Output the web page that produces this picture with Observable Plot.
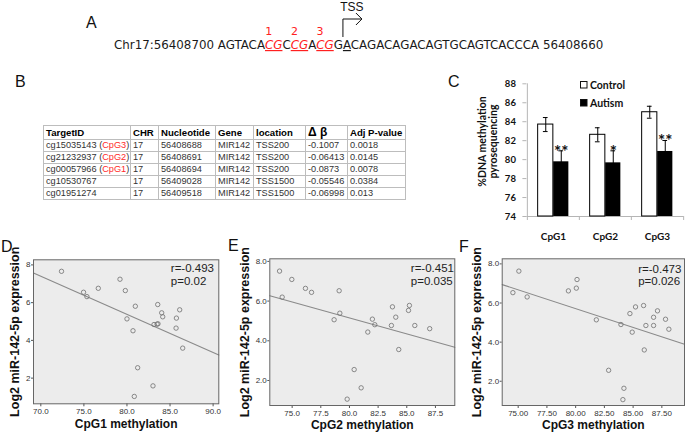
<!DOCTYPE html>
<html><head><meta charset="utf-8">
<script src="https://cdn.jsdelivr.net/npm/d3@7"></script>
<script src="https://cdn.jsdelivr.net/npm/@observablehq/plot@0.6"></script>
<style>
body{margin:0;background:#fff;}
#root{position:relative;width:685px;height:435px;overflow:hidden;background:#fff;font-family:"Liberation Sans",Arial,sans-serif;}
#tbl{position:absolute;left:43px;top:125px;border-collapse:collapse;table-layout:fixed;width:362px;font-size:9.2px;color:#333;}
#tbl td{border:1px solid #bdbdbd;padding:0 0 0 2px;height:11px;line-height:11px;white-space:nowrap;overflow:hidden;}
#tbl tr.h td{height:13px;line-height:13px;font-weight:bold;color:#000;font-size:9.6px;}
#tbl .tag{color:#ff2a2a;}
</style></head><body><div id="root"></div>
<script>
// ---------- DATA ----------
const seqParts = [
  {text:"Chr17:56408700 AGTACA"},
  {text:"CG", site:"1"},
  {text:"C"},
  {text:"CG", site:"2"},
  {text:"A"},
  {text:"CG", site:"3"},
  {text:"G"},
  {text:"A", tss:true},
  {text:"CAGACAGACAGTGCAGTCACCCA 56408660"}
];
const tableColumns = ["TargetID","CHR","Nucleotide","Gene","location","Δ β","Adj P-value"];
const columnWidths = [87,28,57,38,52,42,58];
const targetIds = ["cg15035143","cg21232937","cg00057966","cg10530767","cg01951274"];
const targetTags = ["CpG3","CpG2","CpG1",null,null];
const chrs = ["17","17","17","17","17"];
const nucleotides = ["56408688","56408691","56408694","56409028","56409518"];
const genes = ["MIR142","MIR142","MIR142","MIR142","MIR142"];
const locations = ["TSS200","TSS200","TSS200","TSS1500","TSS1500"];
const deltaBeta = ["-0.1007","-0.06413","-0.0873","-0.05546","-0.06998"];
const adjP = ["0.0018","0.0145","0.0078","0.0384","0.013"];

const cpgSites = ["CpG1","CpG2","CpG3"];
const controlMean = [83.70, 82.62, 85.00];
const controlSE = [0.74, 0.74, 0.63];
const autismMean = [79.77, 79.66, 80.86];
const autismSE = [1.16, 1.27, 1.16];
const autismStars = ["**","*","**"];
const cTicks = [74,76,78,80,82,84,86,88];

const cpg1Methylation = [72.4,74.96,75.35,76.67,79.19,79.81,80.0,80.97,80.70,83.57,84.03,84.15,83.14,83.49,83.6,86.12,85.74,85.70,86.47,81.24,83.02,80.85];
const cpg1Expression  = [7.66,6.55,6.32,6.76,7.24,6.64,5.14,5.81,4.51,5.90,5.46,5.25,4.84,4.86,4.88,5.62,5.18,4.65,3.59,2.55,1.59,1.03];
const cpg2Methylation = [73.90,74.97,74.13,76.16,76.69,79.10,79.16,78.66,82.0,82.21,81.60,83.75,84.04,83.66,85.23,85.15,85.70,87.0,84.30,80.41,81.02,79.80];
const cpg2Expression  = [7.51,7.09,6.20,6.64,6.44,6.52,5.39,5.06,5.09,4.81,4.44,5.71,5.19,4.77,5.78,5.53,4.77,4.61,3.56,2.55,1.63,1.06];
const cpg3Methylation = [74.54,75.06,75.78,79.37,80.06,80.12,81.80,83.94,84.72,85.21,84.92,85.91,86.11,87.12,86.78,86.78,87.82,88.11,85.97,82.87,84.20,84.11];
const cpg3Expression  = [6.53,7.63,6.31,6.62,6.76,7.20,5.14,4.90,5.46,5.80,4.51,5.87,4.85,5.60,5.27,4.85,5.17,4.66,3.60,2.56,1.64,1.06];
const corrR = ["-0.493","-0.451","-0.473"];
const corrP = ["0.02","0.035","0.026"];
const yLabelText = "Log2 miR-142-5p expression";

// ---------- LAYOUT ----------
const SANS = "'Liberation Sans', Arial, sans-serif";
const root = d3.select("#root");
function place(node, left, top){
  node.style.position = "absolute"; node.style.left = left + "px"; node.style.top = top + "px";
  node.style.maxWidth = "none";
  root.node().appendChild(node);
}

// ---------- PANEL B : table ----------
const tbl = root.append("table").attr("id","tbl");
const cg = tbl.append("colgroup");
columnWidths.forEach(w => cg.append("col").style("width", w + "px"));
const hr = tbl.append("tr").attr("class","h");
tableColumns.forEach(c => {
  const td = hr.append("td").text(c);
  if (c === "Δ β") td.style("font-size","12px");
});
targetIds.forEach((id, i) => {
  const tr = tbl.append("tr");
  const td0 = tr.append("td");
  td0.append("span").text(id);
  if (targetTags[i]) {
    td0.append("span").text(" (");
    td0.append("span").attr("class","tag").text(targetTags[i]);
    td0.append("span").text(")");
  }
  [chrs[i], nucleotides[i], genes[i], locations[i], deltaBeta[i], adjP[i]].forEach(v => tr.append("td").text(v));
});

// ---------- PANEL C : bar chart ----------
const cW = 245, cH = 180, cML = 86.4, cMR = 1.7, cMT = 23.3, cMB = 24;
const cStep = (cW - cML - cMR) / cpgSites.length;
const barW = 15.5, capW = 5;
const cPxPerUnit = (cH - cMT - cMB) / (cTicks[cTicks.length-1] - cTicks[0]);
const controlRows = cpgSites.map((s,i) => ({site:s, mean:controlMean[i], se:controlSE[i]}));
const autismRows = cpgSites.map((s,i) => ({site:s, mean:autismMean[i], se:autismSE[i], star:autismStars[i]}));
const plotC = Plot.plot({
  width:cW, height:cH, marginLeft:cML, marginRight:cMR, marginTop:cMT, marginBottom:cMB,
  style:{fontFamily:"Lato, 'Open Sans', sans-serif", fontWeight:"bold", fontSize:"9.5px", color:"#000", background:"transparent", overflow:"visible"},
  x:{domain:cpgSites, padding:0, label:null},
  y:{domain:[cTicks[0], cTicks[cTicks.length-1]], label:null},
  marks:[
    Plot.ruleY([cTicks[0]], {stroke:"#b5b5b5"}),
    Plot.ruleX([cpgSites[0]], {x:d=>d, dx:-cStep/2, y1:cTicks[0], y2:cTicks[cTicks.length-1], stroke:"#b5b5b5"}),
    Plot.ruleX(cpgSites, {x:d=>d, dx:-cStep/2, y1:cTicks[0], y2:cTicks[0] - 4/cPxPerUnit, stroke:"#b5b5b5"}),
    Plot.ruleX([cpgSites[cpgSites.length-1]], {x:d=>d, dx:cStep/2, y1:cTicks[0], y2:cTicks[0] - 4/cPxPerUnit, stroke:"#b5b5b5"}),
    Plot.axisY({ticks:cTicks, tickSize:4, tickPadding:7, stroke:"#b5b5b5", fill:"#111", label:null}),
    Plot.axisX({tickSize:0, tickPadding:16, fill:"#111", fontSize:10, label:null}),
    Plot.barY(controlRows, {x:"site", y1:cTicks[0], y2:"mean", fill:"white", stroke:"black", strokeWidth:1, insetLeft:cStep/2 - barW, insetRight:cStep/2}),
    Plot.barY(autismRows, {x:"site", y1:cTicks[0], y2:"mean", fill:"black", insetLeft:cStep/2, insetRight:cStep/2 - barW}),
    Plot.ruleX(controlRows, {x:"site", y1:d=>d.mean-d.se, y2:d=>d.mean+d.se, dx:-barW/2, stroke:"black"}),
    Plot.tickY(controlRows, {x:"site", y:d=>d.mean+d.se, insetLeft:cStep/2 - barW/2 - capW/2, insetRight:cStep/2 + barW/2 - capW/2, stroke:"black"}),
    Plot.tickY(controlRows, {x:"site", y:d=>d.mean-d.se, insetLeft:cStep/2 - barW/2 - capW/2, insetRight:cStep/2 + barW/2 - capW/2, stroke:"black"}),
    Plot.ruleX(autismRows, {x:"site", y1:d=>d.mean-d.se, y2:d=>d.mean+d.se, dx:barW/2, stroke:"black"}),
    Plot.tickY(autismRows, {x:"site", y:d=>d.mean+d.se, insetLeft:cStep/2 + barW/2 - capW/2, insetRight:cStep/2 - barW/2 - capW/2, stroke:"black"}),
    Plot.text(autismRows, {x:"site", y:d=>d.mean+d.se, text:"star", dx:barW/2, dy:7, lineAnchor:"bottom", fontSize:17, fill:"#111"}),
    Plot.text(["%DNA methylation\npyrosequencing"], {text:d=>d, frameAnchor:"left", textAnchor:"middle", rotate:-90, dx:-39, dy:-8.6, fontSize:10.5, lineHeight:1.08, fill:"#111"})
  ]
});
place(plotC, 440, 60);

// ---------- PANELS D, E, F : scatter plots ----------
function makeScatter(cfg){
  const rows = cfg.xs.map((x,i) => ({x, y:cfg.ys[i]}));
  const mx = d3.mean(cfg.xs), my = d3.mean(cfg.ys);
  const slope = d3.sum(rows, d => (d.x-mx)*(d.y-my)) / d3.sum(rows, d => (d.x-mx)**2);
  const icpt = my - slope*mx;
  const fit = cfg.xDomain.map(x => ({x, y:icpt + slope*x}));
  return Plot.plot({
    width:cfg.w, height:cfg.h, marginLeft:cfg.ml, marginRight:cfg.mr, marginTop:cfg.mt, marginBottom:cfg.mb,
    style:{fontFamily:SANS, fontSize:"8px", color:"#222", background:"transparent", overflow:"visible"},
    x:{domain:cfg.xDomain, label:null},
    y:{domain:cfg.yDomain, label:null},
    marks:[
      Plot.frame({fill:"#ececec", stroke:null}),
      Plot.axisX({ticks:cfg.xTicks, tickFormat:cfg.xFormat, tickSize:3, tickPadding:2, stroke:"#555", fill:"#333", label:null}),
      Plot.axisY({ticks:cfg.yTicks, tickFormat:cfg.yFormat, tickSize:2, tickPadding:1, stroke:"#555", fill:"#333", label:null}),
      Plot.line(fit, {x:"x", y:"y", stroke:"#8a8a8a", strokeWidth:1.1}),
      Plot.dot(rows, {x:"x", y:"y", r:2.2, stroke:"#6f6f6f", strokeWidth:0.8, fill:"none"}),
      Plot.frame({stroke:"#666"}),
      Plot.text([`r=${cfg.r}`], {text:d=>d, frameAnchor:"top-right", textAnchor:"start", lineAnchor:"top", dx:cfg.statDx, dy:cfg.statDy, fontSize:11.5, fill:"#222"}),
      Plot.text([`p=${cfg.p}`], {text:d=>d, frameAnchor:"top-right", textAnchor:"start", lineAnchor:"top", dx:cfg.statDx, dy:cfg.statDy + 12.5, fontSize:11.5, fill:"#222"}),
      Plot.text([cfg.xLabel], {text:d=>d, frameAnchor:"bottom", textAnchor:"middle", lineAnchor:"bottom", dy:cfg.xLabelDy, fontSize:12, fontWeight:"bold", fill:"#111"}),
      Plot.text([yLabelText], {text:d=>d, frameAnchor:"left", textAnchor:"middle", rotate:-90, dx:cfg.yLabelDx, fontSize:12.5, fontWeight:"bold", fill:"#111"})
    ]
  });
}
const plotD = makeScatter({xs:cpg1Methylation, ys:cpg1Expression, w:228, h:195, ml:33, mr:9.7, mt:19.3, mb:31.7,
  xDomain:[69.15,90.66], yDomain:[0.64,8.27], xTicks:[70,75,80,85,90], xFormat:".1f", yTicks:[2,4,6,8], yFormat:"d",
  r:corrR[0], p:corrP[0], statDx:-48, statDy:4.3, xLabel:"CpG1 methylation", xLabelDy:24, yLabelDx:-18.3});
place(plotD, 0, 240);
const plotE = makeScatter({xs:cpg2Methylation, ys:cpg2Expression, w:228, h:195, ml:41.3, mr:1.7, mt:18.3, mb:30,
  xDomain:[73.05,89.19], yDomain:[0.74,8.13], xTicks:[75,77.5,80,82.5,85,87.5], xFormat:".1f", yTicks:[2,4,6,8], yFormat:".1f",
  r:corrR[1], p:corrP[1], statDx:-44, statDy:5.4, xLabel:"CpG2 methylation", xLabelDy:23.5, yLabelDx:-25.3});
place(plotE, 228, 240);
const plotF = makeScatter({xs:cpg3Methylation, ys:cpg3Expression, w:229, h:195, ml:45.7, mr:1, mt:18.3, mb:30,
  xDomain:[73.61,89.47], yDomain:[0.76,8.26], xTicks:[75,77.5,80,82.5,85,87.5], xFormat:".2f", yTicks:[2,4,6,8], yFormat:".1f",
  r:corrR[2], p:corrP[2], statDx:-46.3, statDy:6, xLabel:"CpG3 methylation", xLabelDy:23.5, yLabelDx:-25});
place(plotF, 456, 240);

// ---------- OVERLAY: panel A, panel letters, legend ----------
const ov = root.append("svg").attr("width",685).attr("height",435)
  .style("position","absolute").style("left","0px").style("top","0px").style("z-index",5).style("pointer-events","none");
const letters = [["A",86,28],["B",15,87],["C",448,87],["D",1,252],["E",228,251],["F",459,252]];
letters.forEach(([t,x,y]) => ov.append("text").attr("x",x).attr("y",y).attr("font-family",SANS).attr("font-size",16).attr("fill","#111").text(t));

const seq = ov.append("text").attr("x",114).attr("y",49).attr("font-family","'DejaVu Sans', Verdana, sans-serif").attr("font-size",11.85).attr("fill","#1a1a1a").style("white-space","pre");
let offset = 0; const marks = [];
seqParts.forEach(p => {
  const ts = seq.append("tspan").text(p.text);
  if (p.site) { ts.attr("fill","#ff2020").attr("font-style","italic").style("text-decoration","underline"); }
  if (p.tss) { ts.style("text-decoration","underline"); }
  marks.push({...p, offset});
  offset += p.text.length;
});
const sn = seq.node();
marks.forEach(m => {
  if (m.site) {
    const x0 = sn.getStartPositionOfChar(m.offset).x;
    const w = sn.getSubStringLength(m.offset, m.text.length);
    ov.append("text").attr("x", x0 + w*0.22).attr("y",35).attr("text-anchor","middle")
      .attr("font-family","'DejaVu Sans', Verdana, sans-serif").attr("font-size",11).attr("fill","#ff2020").text(m.site);
  }
  if (m.tss) {
    const x0 = sn.getStartPositionOfChar(m.offset).x;
    const g = ov.append("g").attr("stroke","#111").attr("stroke-width",1).attr("fill","none");
    g.append("path").attr("d",`M${x0},37V19H${x0+19}`);
    g.append("path").attr("d",`M${x0+13},13L${x0+19},19L${x0+13},25`);
    ov.append("text").attr("x",x0+9).attr("y",11).attr("text-anchor","middle").attr("font-family",SANS).attr("font-size",12).attr("fill","#111").text("TSS");
  }
});

// legend for panel C
const legendItems = [{label:"Control", fill:"white", y:81},{label:"Autism", fill:"black", y:99}];
legendItems.forEach(it => {
  ov.append("rect").attr("x",580.5).attr("y",it.y+0.5).attr("width",6.5).attr("height",6.5).attr("fill",it.fill).attr("stroke","#111");
  ov.append("text").attr("x",590).attr("y",it.y+7.5).attr("font-family","Lato, 'Open Sans', sans-serif").attr("font-weight","bold").attr("font-size",10.5).attr("fill","#111").text(it.label);
});
</script></body></html>
